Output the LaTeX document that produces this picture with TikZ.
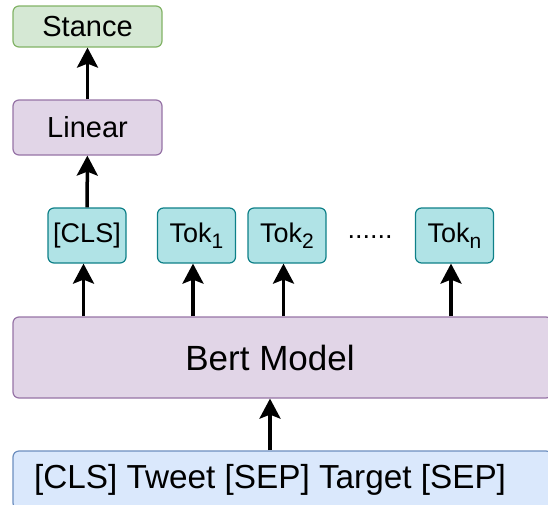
\documentclass[tikz,border=0pt]{standalone}
\usepackage{fontspec}
\setmainfont{Liberation Sans}
\usetikzlibrary{arrows.meta,positioning}
\definecolor{stanceFill}{HTML}{D5E8D4}
\definecolor{stanceLine}{HTML}{82B366}
\definecolor{modelFill}{HTML}{E1D5E7}
\definecolor{modelLine}{HTML}{9673A6}
\definecolor{tokFill}{HTML}{B0E3E6}
\definecolor{tokLine}{HTML}{0E8088}
\definecolor{inFill}{HTML}{DAE8FC}
\definecolor{inLine}{HTML}{6C8EBF}
\newcommand{\toksub}[1]{\raisebox{-6pt}{\fontsize{21}{24}\selectfont #1}}

\begin{document}
\begin{tikzpicture}[x=1pt, y=-1pt,
  box/.style={draw, rounded corners=6pt, line width=1.2pt, inner sep=0pt,
              align=center},
  head/.style={box, minimum width=149pt, font=\fontsize{29}{34}\selectfont},
  tok/.style={box, fill=tokFill, draw=tokLine, minimum width=78pt,
              minimum height=55pt, font=\fontsize{27}{32}\selectfont},
  arr/.style={line width=3.5pt, -{Stealth[length=20pt, width=21pt, inset=4pt]}}
]
\useasboundingbox (0,0) rectangle (548,504);
\node[head, fill=stanceFill, draw=stanceLine, minimum height=41pt]
  (stance) at (87.5,26.5) {Stance};
\node[head, fill=modelFill, draw=modelLine, minimum height=55pt]
  (linear) at (87.5,127.5) {Linear};
\node[tok] (cls) at (87,235.5) {[CLS]};
\node[tok] (tok1) at (196.5,235.5) {Tok\toksub{1}};
\node[tok] (tok2) at (287,235.5) {Tok\toksub{2}};
\node[inner sep=0pt, font=\fontsize{27}{32}\selectfont] (dots) at (370,237) {......};
\node[tok] (tokn) at (454.5,235.5) {Tok\toksub{n}};
\node[box, fill=modelFill, draw=modelLine, minimum width=539pt,
      minimum height=81pt, font=\fontsize{35}{40}\selectfont]
  (bert) at (282.5,357.5) {Bert Model\hspace*{25pt}};
\node[box, fill=inFill, draw=inLine, minimum width=539pt,
      minimum height=58pt, font=\fontsize{33.3}{38}\selectfont]
  (input) at (282.5,480) {[CLS] Tweet [SEP] Target [SEP]\hspace*{25pt}};
% arrows
\draw[arr] (linear) -- (stance);
\draw[arr] (cls) -- (linear);
\foreach \t in {cls,tok1,tok2,tokn}
  \draw[arr] ([xshift=-3.5pt]\t.south |- bert.north) -- ([xshift=-3.5pt]\t.south);
\draw[arr] ([xshift=-12.5pt]input.north) -- ([xshift=-12.5pt]bert.south);
\end{tikzpicture}
\end{document}
